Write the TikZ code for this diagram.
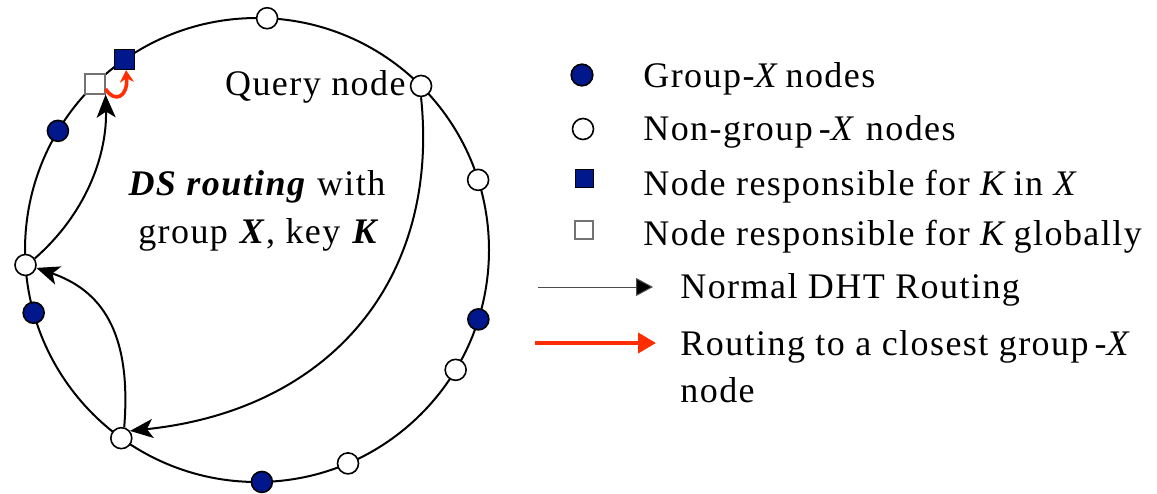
\documentclass[tikz,border=0pt]{standalone}
\usepackage{fontspec}
\setmainfont{Liberation Serif}[LetterSpace=4]
\usetikzlibrary{arrows.meta,calc}

\definecolor{gblue}{RGB}{0,24,140}
\definecolor{routered}{RGB}{255,45,0}

\begin{document}
\begin{tikzpicture}[x=0.5pt,y=-0.5pt,
  ring/.style={line width=1pt},
  gnode/.style={circle,draw=black,line width=0.8pt,fill=gblue,inner sep=0pt,minimum size=10.5pt},
  onode/.style={circle,draw=black,line width=0.8pt,fill=white,inner sep=0pt,minimum size=10.5pt},
  gsq/.style={rectangle,draw=black,line width=0.5pt,fill=gblue,inner sep=0pt,minimum size=10pt},
  osq/.style={rectangle,draw=black!55,line width=0.6pt,fill=white,inner sep=0pt,minimum size=10pt},
  route/.style={line width=1pt,-{Stealth[length=11.5pt,width=9.5pt,inset=3pt]}},
  redroute/.style={line width=1.8pt,draw=routered,-{Stealth[length=6pt,width=7pt]}},
  txt/.style={font=\fontsize{18}{22}\selectfont,inner sep=0pt},
]
\useasboundingbox (0,0) rectangle (1157,493);

% ring of peers
\coordinate (c) at (257,250);
\draw[ring] (c) circle[radius=232];

\node[onode] (w1) at ($(c)+(-87.5:232)$) {};
\node[gsq]   (bs) at ($(c)+(-124.9:232)$) {};
\node[osq]   (ws) at ($(c)+(-134.3:232)$) {};
\node[gnode] (b1) at ($(c)+(-149.1:232)$) {};
\node[onode] (w5) at ($(c)+(-183.7:232)$) {};
\node[gnode] (b2) at ($(c)+(-195.7:232)$) {};
\node[onode] (w7) at ($(c)+(-234.2:232)$) {};
\node[gnode] (b3) at ($(c)+(-271.2:232)$) {};
\node[onode] (w8) at ($(c)+(-293.1:232)$) {};
\node[onode] (w9) at ($(c)+(-328.9:232)$) {};
\node[gnode] (b4) at ($(c)+(-342.6:232)$) {};
\node[onode] (w10) at ($(c)+(-17.6:232)$) {};
\node[onode] (q) at ($(c)+(-45:232)$) {};

% labels inside the ring
\node[txt,anchor=base east] (qlabel) at (406,95) {Query node};
\node[txt,anchor=base] (ds1) at (257,195) {\textbf{\textit{DS routing}} with};
\node[txt,anchor=base] (ds2) at (259,243) {group \textbf{\textit{X}}, key \textbf{\textit{K}}};

% DHT routing hops
\draw[route] (q.south) .. controls (440,280) and (330,410) .. (w7.40);
\draw[route] (w7.75) .. controls (132,330) and (100,290) .. (w5.-15);
\draw[route] (w5.35) .. controls (90,210) and (107,150) .. (ws.south east);
\draw[redroute] (ws.-25) .. controls (114,103) and (128,98) .. (bs.-80);

% legend
\node[gnode,minimum width=10.8pt,minimum height=10pt] (lg1) at (582,75) {};
\node[onode,minimum width=10pt,minimum height=10.5pt] (lg2) at (583,129) {};
\node[gsq,minimum size=9pt] (lg3) at (584,178) {};
\node[osq,minimum size=9pt] (lg4) at (584,230) {};
\node[txt,anchor=base west] (t1) at (643,87) {Group-\textit{X}\hspace{-2pt} nodes};
\node[txt,anchor=base west] (t2) at (643,140) {Non-group\,-\textit{X} nodes};
\node[txt,anchor=base west] (t3) at (643,195) {Node responsible for \textit{K}\hspace{-2pt} in \textit{X}};
\node[txt,anchor=base west] (t4) at (643,245) {Node responsible for \textit{K}\hspace{-2pt} globally};

\coordinate (la1) at (538,287);
\coordinate (la2) at (653,287);
\draw[line width=0.5pt,draw=black!70,-{Triangle[length=8.5pt,width=9pt,fill=black]}] (la1) -- (la2);
\node[txt,anchor=base west] (t5) at (680,298) {Normal DHT Routing};

\coordinate (lr1) at (535,343);
\coordinate (lr2) at (656,343);
\draw[line width=2pt,draw=routered,-{Triangle[length=9pt,width=10pt]}] (lr1) -- (lr2);
\node[txt,anchor=base west] (t6) at (680,355) {Routing to a closest group\,-\textit{X}};
\node[txt,anchor=base west] (t7) at (680,402) {node};
\end{tikzpicture}
\end{document}
